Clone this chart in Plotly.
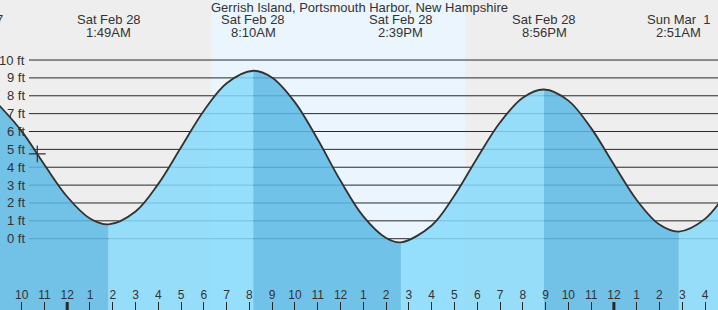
import plotly.graph_objects as go

# ---------------- data ----------------
title = "Gerrish Island, Portsmouth Harbor, New Hampshire"

# hours relative to midnight starting Sat Feb 28
curve_hours = [-3, -2, -1, 0, 1, 1.817, 3, 4, 5, 6, 7, 8.167, 9, 10, 11, 12, 13, 14,
               14.65, 16, 17, 18, 19, 20, 20.933, 22, 23, 24, 25, 26, 26.85, 28, 29]
curve_ft = [7.48, 6.02, 4.14, 2.35, 1.13, 0.80, 1.52, 3.07, 5.12, 7.16, 8.70, 9.40,
            9.01, 7.63, 5.55, 3.24, 1.25, 0.04, -0.20, 0.74, 2.42, 4.52, 6.50, 7.89, 8.35,
            7.73, 6.19, 4.15, 2.17, 0.79, 0.40, 1.11, 2.70]

# tide extremes (hours) with labels
event_hours = [-4.12, 1.817, 8.167, 14.65, 20.933, 26.85]
event_dates = ["Fri Feb 27", "Sat Feb 28", "Sat Feb 28", "Sat Feb 28", "Sat Feb 28", "Sun Mar\u00a0 1"]
event_times = ["7:53PM", "1:49AM", "8:10AM", "2:39PM", "8:56PM", "2:51AM"]

sunrise_hour = 6.32
sunset_hour = 17.47

now_hour = -1.313
now_ft = 4.75

tick_hours = list(range(-3, 29))
tick_labels = ["9", "10", "11", "12", "1", "2", "3", "4", "5", "6", "7", "8", "9", "10", "11",
               "12", "1", "2", "3", "4", "5", "6", "7", "8", "9", "10", "11", "12", "1", "2",
               "3", "4"]
midnight_hours = [0, 24]

grid_ft = [0, 1, 2, 3, 4, 5, 6, 7, 8, 9, 10]
grid_labels = ["0 ft", "1 ft", "2 ft", "3 ft", "4 ft", "5 ft", "6 ft", "7 ft", "8 ft", "9 ft", "10 ft"]

# ---------------- style ----------------
W, H = 718, 310
X_RANGE = [-2.95, 28.57]
Y_RANGE = [-3.99, 13.36]
FONT = "Liberation Sans, Arial, sans-serif"
TXT = "#333333"
DARK = "rgba(92,185,229,0.85)"
LIGHT = "rgba(134,217,252,0.85)"

fig = go.Figure()

# split curve into segments at extremes, alternating colours
bounds = [curve_hours[0]] + [h for h in event_hours if curve_hours[0] < h < curve_hours[-1]] + [curve_hours[-1]]
for i in range(len(bounds) - 1):
    a, b = bounds[i], bounds[i + 1]
    xs = [h for h in curve_hours if a <= h <= b]
    ys = [v for h, v in zip(curve_hours, curve_ft) if a <= h <= b]
    fig.add_trace(go.Scatter(x=[a, b], y=[Y_RANGE[0] - 1] * 2, mode="lines",
                             line=dict(width=0), hoverinfo="skip", showlegend=False))
    fig.add_trace(go.Scatter(x=xs, y=ys, mode="lines", fill="tonexty",
                             fillcolor=DARK if i % 2 == 0 else LIGHT,
                             line=dict(width=0, shape="spline"), hoverinfo="skip", showlegend=False))

# outline
fig.add_trace(go.Scatter(x=curve_hours, y=curve_ft, mode="lines",
                         line=dict(color="rgb(50,50,50)", width=1.8, shape="spline"),
                         showlegend=False, hoverinfo="skip"))
# current-time marker
fig.add_trace(go.Scatter(x=[now_hour], y=[now_ft], mode="markers",
                         marker=dict(symbol="cross-thin", size=12,
                                     line=dict(color="rgb(50,50,50)", width=1.2)),
                         showlegend=False, hoverinfo="skip"))

shapes = [dict(type="rect", xref="x", yref="paper", x0=sunrise_hour, x1=sunset_hour, y0=0, y1=1,
               fillcolor="#EAF5FE", line=dict(width=0), layer="below")]
for g in grid_ft:
    shapes.append(dict(type="line", xref="paper", yref="y", x0=29 / W, x1=1, y0=g, y1=g,
                       line=dict(color="rgb(40,40,40)", width=1), layer="below"))
for m in midnight_hours:
    shapes.append(dict(type="line", xref="x", yref="paper", x0=m, x1=m, y0=0, y1=8 / H,
                       line=dict(color="rgb(40,40,40)", width=3), layer="above"))

annotations = [dict(text=title, xref="paper", yref="paper", x=0.5, y=1 - 7.5 / H,
                    xanchor="center", yanchor="middle", showarrow=False,
                    font=dict(family=FONT, size=13, color=TXT))]
for h, d, t in zip(event_hours, event_dates, event_times):
    if X_RANGE[0] <= h <= X_RANGE[1]:
        xr, xv = "x", h
    else:
        xr, xv = "paper", (h - X_RANGE[0]) / (X_RANGE[1] - X_RANGE[0])
    annotations.append(dict(text=d, xref=xr, yref="paper", x=xv, y=1 - 20 / H,
                            xanchor="center", yanchor="middle", showarrow=False,
                            font=dict(family=FONT, size=13, color=TXT)))
    annotations.append(dict(text=t, xref=xr, yref="paper", x=xv, y=1 - 32 / H,
                            xanchor="center", yanchor="middle", showarrow=False,
                            font=dict(family=FONT, size=13, color=TXT)))
for g, lab in zip(grid_ft, grid_labels):
    annotations.append(dict(text=lab, xref="paper", yref="y", x=27 / W, y=g,
                            xanchor="right", yanchor="middle", showarrow=False,
                            font=dict(family=FONT, size=13, color=TXT)))

fig.update_layout(
    width=W, height=H, margin=dict(l=0, r=0, t=0, b=0),
    plot_bgcolor="#EEEEEE", paper_bgcolor="#EEEEEE",
    shapes=shapes, annotations=annotations, showlegend=False,
    xaxis=dict(range=X_RANGE, showgrid=False, zeroline=False, showline=False,
               tickvals=tick_hours, ticktext=tick_labels,
               ticks="inside", ticklen=8, tickwidth=1, tickcolor="rgb(40,40,40)",
               ticklabelposition="inside", tickfont=dict(family=FONT, size=12, color=TXT),
               fixedrange=True),
    yaxis=dict(range=Y_RANGE, visible=False, fixedrange=True),
)

fig.write_html("out.html")
